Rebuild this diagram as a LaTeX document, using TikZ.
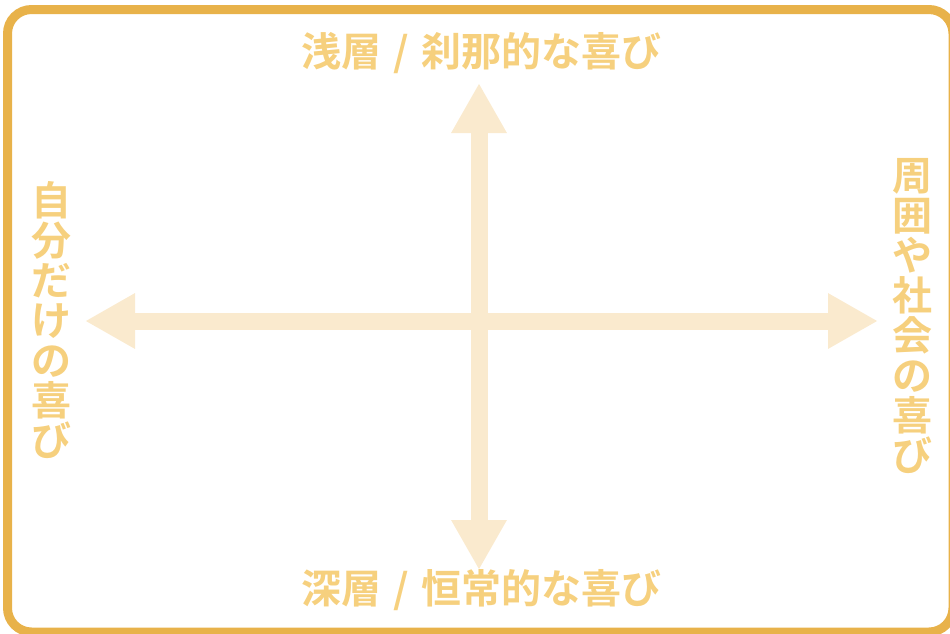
\documentclass[tikz,border=0pt]{standalone}
\usepackage{fontspec}
\newfontfamily\cjk{Noto Sans CJK JP}[BoldFont={Noto Sans CJK JP Bold}]
\usetikzlibrary{arrows.meta}
\definecolor{frameC}{RGB}{232,178,74}
\definecolor{arrowC}{RGB}{250,234,206}
\definecolor{textC}{RGB}{246,208,126}
\newcommand\slashbox{\makebox[1em]{/}}
\tikzset{
  axis/.style={draw=arrowC, line width=17pt, {Triangle[length=50pt,width=52pt]}-{Triangle[length=50pt,width=52pt]}},
  lbl/.style={text=textC, font=\cjk\bfseries\fontsize{40pt}{40pt}\selectfont, inner sep=0pt},
  vlbl/.style={lbl, align=center},
}
\begin{document}
\begin{tikzpicture}[x=1pt,y=-1pt]
\useasboundingbox (0,0) rectangle (950,633);
\clip (0,0) rectangle (950,633);
\draw[frameC, line width=9pt, rounded corners=24pt] (7.5,9.5) rectangle (953,632);
\coordinate (T) at (479,83);
\coordinate (B) at (479,570);
\coordinate (L) at (85,321);
\coordinate (R) at (878,321);
\draw[axis] (B) -- (T);
\draw[axis] (L) -- (R);
\node[lbl] (top) at (481,53) {浅層\slashbox 刹那的な喜び};
\node[lbl] (bottom) at (481,590) {深層\slashbox 恒常的な喜び};
\node[vlbl] (left) at (51,320) {自\\分\\だ\\け\\の\\喜\\び};
\node[vlbl] (right) at (912,316) {周\\囲\\や\\社\\会\\の\\喜\\び};
\end{tikzpicture}
\end{document}
